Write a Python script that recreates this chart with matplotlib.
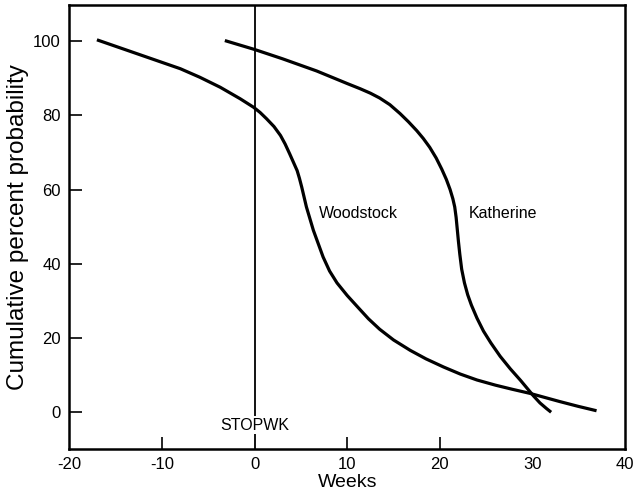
import matplotlib
matplotlib.use('Agg')
import matplotlib.pyplot as plt

# values
wood_x = [-17, -12.5, -8.0, -5.9, -3.7, -1.55, -0.1, 0.6, 1.3, 2.1, 2.8, 3.3, 3.8, 4.6, 4.85, 5.1, 5.6, 6.35,
          7.4, 8.1, 8.9, 10.0, 11.2, 12.3, 13.5, 15.0, 16.8, 18.5, 20.4, 22.2, 24.0, 26.0, 27.8, 29.7, 31.3, 32.9, 34.9, 36.9]
wood_y = [100.4, 96.5, 92.6, 90.3, 87.6, 84.5, 82.2, 80.8, 79.1, 77.0, 74.6, 72.3, 69.6, 65.1, 63.0, 60.6, 55.3, 49.0,
          41.8, 38.0, 34.8, 31.4, 28.1, 25.1, 22.3, 19.4, 16.6, 14.3, 12.1, 10.2, 8.6, 7.2, 6.1, 5.0, 3.9, 2.8, 1.5, 0.3]
kath_x = [-3.2, 0, 3, 6.7, 10, 11.4, 12.5, 13.5, 14.6, 15.7, 16.6, 17.5, 18.2, 18.9, 19.6, 20.2, 20.7, 21.1, 21.4, 21.6,
          21.75, 21.85, 22.0, 22.15, 22.35, 22.65, 23.0, 23.4, 24.0, 24.7, 25.5, 26.5, 27.6, 28.7, 29.4, 30.1, 30.8, 31.5, 32.0]
kath_y = [100.2, 97.8, 95.3, 92.0, 88.6, 87.2, 86.0, 84.7, 82.9, 80.5, 78.3, 75.9, 73.8, 71.4, 68.5, 65.5, 62.7, 60.0, 57.5, 55.3,
          52.5, 49.9, 46.0, 42.5, 38.5, 34.8, 31.6, 28.8, 25.3, 21.8, 18.6, 15.0, 11.6, 8.5, 6.4, 4.3, 2.4, 0.9, -0.1]
xticks = [-20, -10, 0, 10, 20, 30, 40]
yticks = [0, 20, 40, 60, 80, 100]
stop_week = 0

plt.rcParams['font.family'] = ['Liberation Sans', 'DejaVu Sans']
plt.rcParams['axes.unicode_minus'] = False

fig = plt.figure(figsize=(6.4, 4.99), dpi=100)
ax = fig.add_axes([0.108, 0.100, 0.869, 0.890])

ax.plot(wood_x, wood_y, color='black', lw=2.3, solid_joinstyle='round', solid_capstyle='butt')
ax.plot(kath_x, kath_y, color='black', lw=2.3, solid_joinstyle='round', solid_capstyle='butt')
ax.axvline(stop_week, color='black', lw=1.3)

ax.text(stop_week, -3.6, 'STOPWK', ha='center', va='center', fontsize=11.5,
        bbox=dict(facecolor='white', edgecolor='none', pad=1))
ax.text(7.0, 53.5, 'Woodstock', ha='left', va='center', fontsize=11.5)
ax.text(23.1, 53.5, 'Katherine', ha='left', va='center', fontsize=11.5)

ax.set_xlim(-20, 40)
ax.set_ylim(-10.05, 109.8)
ax.set_xticks(xticks)
ax.set_yticks(yticks)
ax.tick_params(direction='in', length=9, width=1.2, labelsize=12, pad=6)
# only some x ticks are drawn in the reference
for t, v in zip(ax.xaxis.get_major_ticks(), xticks):
	if v in (-20, 0, 30, 40):
		t.tick1line.set_visible(False)

for s in ax.spines.values():
	s.set_linewidth(1.8)

ax.set_xlabel('Weeks', fontsize=14, labelpad=1)
ax.set_ylabel('Cumulative percent probability', fontsize=17.5, labelpad=3)

fig.savefig('out.png', dpi=100)
